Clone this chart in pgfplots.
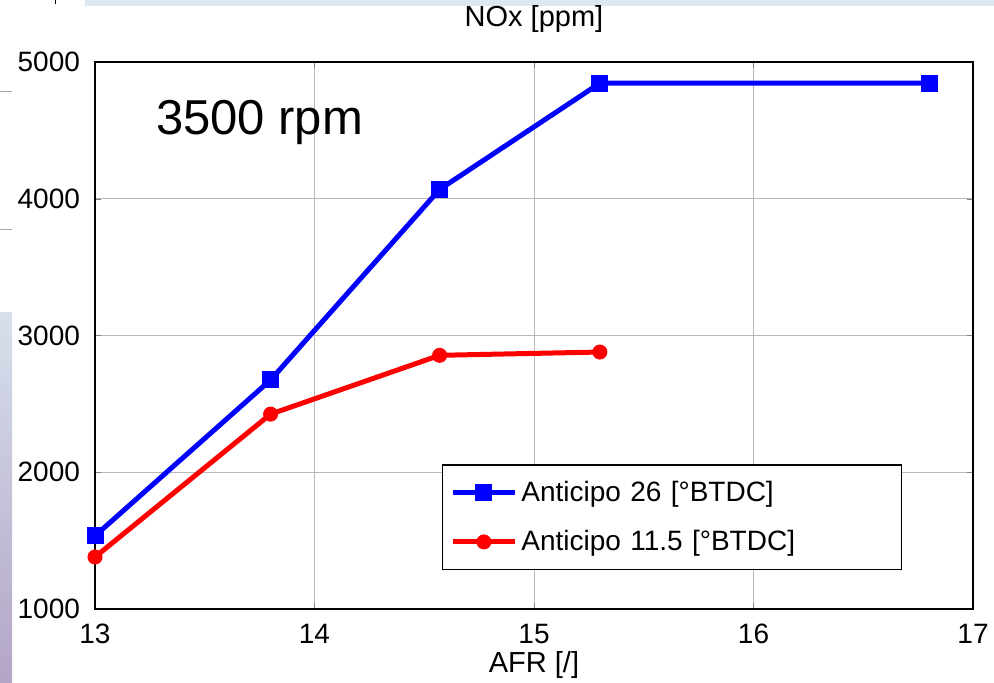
\documentclass[border=0pt]{standalone}
\usepackage{pgfplots}
\pgfplotsset{compat=1.18}
\usepackage{fontspec}
\setmainfont{Liberation Sans}
\definecolor{topbar}{HTML}{DCE9F3}
\definecolor{gradtop}{HTML}{D6E0EB}
\definecolor{gradbot}{HTML}{B3A4C7}
\begin{document}
\begin{tikzpicture}
\path[use as bounding box] (0,0) rectangle (497pt,341.5pt);
\fill[topbar] (42.5pt,338.5pt) rectangle (497pt,341.5pt);
\shade[top color=gradtop,bottom color=gradbot] (0,0) rectangle (6pt,185pt);
\draw[gray!70,line width=0.4pt] (0,296pt) -- (6pt,296pt);
\draw[gray!70,line width=0.4pt] (0,227pt) -- (6pt,227pt);
\draw[black,line width=0.4pt] (27.5pt,339.5pt) -- (27.5pt,341.5pt);
\begin{axis}[
  at={(47.5pt,37pt)}, anchor=south west,
  scale only axis, width=439pt, height=273.5pt,
  xmin=13, xmax=17, ymin=1000, ymax=5000,
  xtick={13,14,15,16,17}, ytick={1000,2000,3000,4000,5000},
  /pgf/number format/assume math mode=true,
  /pgf/number format/1000 sep={},
  tick label style={font=\fontsize{14}{16}\selectfont},
  xticklabel style={yshift=-4pt},
  yticklabel style={xshift=-4pt},
  tick align=inside, tick pos=both, major tick length=3pt,
  grid=major, grid style={gray!55,line width=0.5pt},
  axis line style={black,line width=0.7pt},
  title={NOx [ppm]}, title style={font=\fontsize{14.5}{16}\selectfont,yshift=5pt},
  xlabel={AFR [/]}, xlabel style={font=\fontsize{14.5}{16}\selectfont,yshift=3pt},
  legend style={at={(0.395,0.071)}, anchor=south west, font=\fontsize{14}{16}\selectfont,
    draw=black, line width=0.6pt, inner xsep=4pt, inner ysep=6pt, row sep=9pt,
    text width=184pt},
  legend image code/.code={\draw[#1] (0pt,0pt) -- (31pt,0pt); \draw[#1,mark repeat=2,mark phase=2] plot coordinates {(0pt,0pt) (15.5pt,0pt) (31pt,0pt)};},
]
\addplot[blue, line width=2.5pt, mark=square*, mark size=4pt, mark options={solid,line width=0.5pt}] coordinates {
(13.00,1535) (13.80,2675) (14.57,4068) (15.30,4845) (16.80,4845)};
\addlegendentry{Anticipo 26 [°BTDC]}
\addplot[red, line width=2.5pt, mark=*, mark size=3.5pt, mark options={solid,line width=0.5pt}] coordinates {
(13.00,1380) (13.80,2425) (14.57,2855) (15.30,2879)};
\addlegendentry{Anticipo 11.5 [°BTDC]}
\node[font=\fontsize{24.5}{28}\selectfont] at (axis cs:13.75,4560) {3500 rpm};
\end{axis}
\end{tikzpicture}
\end{document}
